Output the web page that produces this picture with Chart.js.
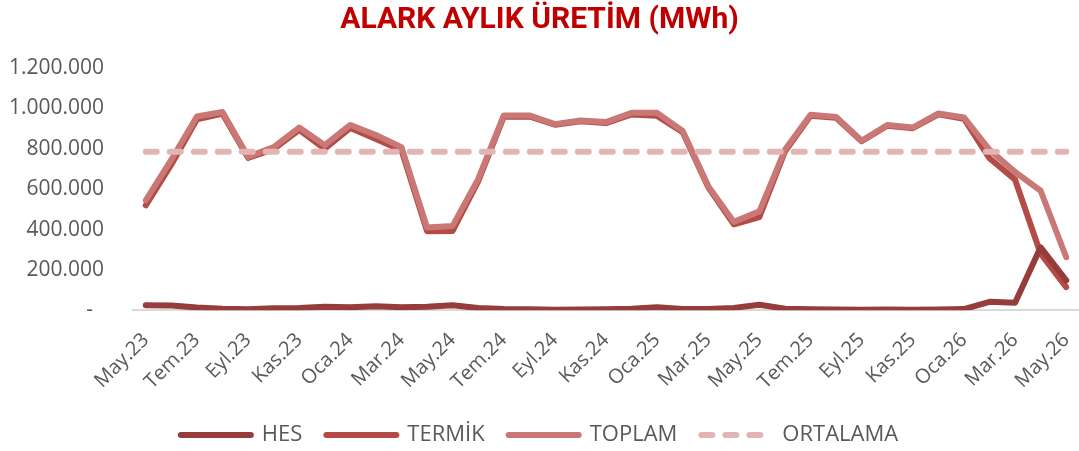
<!DOCTYPE html>
<html>
<head>
<meta charset="utf-8">
<script src="https://cdn.jsdelivr.net/npm/chart.js@4"></script>
<style>
  body { margin: 0; background: #fff; }
  #wrap { width: 1079px; height: 451px; position: relative; }
</style>
</head>
<body>
<div id="wrap"><canvas id="uretimChart"></canvas></div>
<script>
// months May.23 .. May.26
const months = ['May.23','Haz.23','Tem.23','Ağu.23','Eyl.23','Eki.23','Kas.23','Ara.23',
  'Oca.24','Şub.24','Mar.24','Nis.24','May.24','Haz.24','Tem.24','Ağu.24','Eyl.24','Eki.24',
  'Kas.24','Ara.24','Oca.25','Şub.25','Mar.25','Nis.25','May.25','Haz.25','Tem.25','Ağu.25',
  'Eyl.25','Eki.25','Kas.25','Ara.25','Oca.26','Şub.26','Mar.26','Nis.26','May.26'];

const hes = [25000, 24000, 14000, 8000, 5000, 10000, 11000, 18000, 15000, 20000, 15000, 18000,
  25000, 12000, 7000, 5000, 3000, 4000, 5000, 8000, 15000, 6000, 6000, 12000, 28000, 8000,
  5000, 4000, 3000, 4000, 3000, 4000, 6000, 42000, 38000, 312000, 148000];

const termik = [520000, 722000, 946000, 974000, 755000, 798000, 894000, 800000, 903000, 848000,
  793000, 392000, 393000, 638000, 958000, 960000, 919000, 936000, 927000, 970000, 963000,
  882000, 609000, 426000, 462000, 787000, 963000, 954000, 837000, 914000, 902000, 971000,
  949000, 753000, 647000, 280000, 115000];

const toplam = [545000, 746000, 960000, 982000, 760000, 808000, 905000, 818000, 918000, 868000,
  808000, 410000, 418000, 650000, 965000, 965000, 922000, 940000, 932000, 978000, 978000,
  888000, 615000, 438000, 490000, 795000, 968000, 958000, 840000, 918000, 905000, 975000,
  955000, 795000, 685000, 592000, 263000];

const ortalamaValue = 785000;
const ortalama = months.map(() => ortalamaValue);

const yTicks = [0, 200000, 400000, 600000, 800000, 1000000, 1200000];

const fmt = v => v === 0 ? '-  ' : v.toLocaleString('de-DE');
const textFont = '"Open Sans", sans-serif';

const ctx = document.getElementById('uretimChart').getContext('2d');

new Chart(ctx, {
    type: 'line',
    data: {
        labels: months,
        datasets: [
            {
                label: 'HES',
                data: hes,
                borderColor: '#963c3a',
                backgroundColor: '#963c3a',
                borderWidth: 6,
                pointRadius: 0,
                borderCapStyle: 'round',
                borderJoinStyle: 'round',
                order: 2
            },
            {
                label: 'TERMİK',
                data: termik,
                borderColor: '#b44b47',
                backgroundColor: '#b44b47',
                borderWidth: 6,
                pointRadius: 0,
                borderCapStyle: 'round',
                borderJoinStyle: 'round',
                order: 3
            },
            {
                label: 'TOPLAM',
                data: toplam,
                borderColor: '#c97876',
                backgroundColor: '#c97876',
                borderWidth: 6,
                pointRadius: 0,
                borderCapStyle: 'round',
                borderJoinStyle: 'round',
                order: 1
            },
            {
                label: 'ORTALAMA',
                data: ortalama,
                borderColor: '#e2b5b5',
                backgroundColor: '#e2b5b5',
                borderWidth: 6,
                borderDash: [11, 13],
                pointRadius: 0,
                borderCapStyle: 'round',
                order: 0
            }
        ]
    },
    options: {
        responsive: true,
        maintainAspectRatio: false,
        animation: false,
        layout: { padding: { left: 0, right: 0, top: 0, bottom: -5 } },
        plugins: {
            title: {
                display: true,
                text: 'ALARK AYLIK ÜRETİM (MWh)',
                color: '#c00000',
                font: { family: '"Liberation Sans Narrow", "Roboto", sans-serif', size: 30, weight: 'bold' },
                padding: { top: 2, bottom: 30 }
            },
            legend: {
                position: 'bottom',
                labels: {
                    usePointStyle: true,
                    pointStyle: 'line',
                    pointStyleWidth: 70,
                    boxHeight: 22,
                    padding: 24,
                    color: '#595959',
                    font: { family: textFont, size: 22 },
                    sort: (a, b) => a.datasetIndex - b.datasetIndex,
                    generateLabels: chart => {
                        const items = Chart.defaults.plugins.legend.labels.generateLabels(chart);
                        items.forEach(item => {
                            const ds = chart.data.datasets[item.datasetIndex];
                            item.strokeStyle = ds.borderColor;
                            item.lineWidth = 6;
                            item.lineCap = 'round';
                            item.lineDash = ds.borderDash || [];
                        });
                        return items;
                    }
                }
            },
            tooltip: { enabled: false }
        },
        scales: {
            x: {
                offset: true,
                afterFit: scale => {
                    scale.paddingRight = 0;
                    scale.height = scale.height - 12;
                },
                grid: { display: false, drawTicks: false },
                border: { display: true, color: '#d9d9d9', width: 2 },
                ticks: {
                    autoSkip: false,
                    minRotation: 45,
                    maxRotation: 45,
                    padding: 18,
                    color: '#595959',
                    font: { family: textFont, size: 20 },
                    callback: function (value, index) {
                        return index % 2 === 0 ? this.getLabelForValue(value) : '';
                    }
                }
            },
            y: {
                min: 0,
                max: 1200000,
                afterBuildTicks: scale => { scale.ticks = yTicks.map(v => ({ value: v })); },
                afterFit: scale => { scale.width = 133; },
                grid: { display: false, drawTicks: false },
                border: { display: false },
                ticks: {
                    padding: 29,
                    color: '#595959',
                    font: { family: textFont, size: 21 },
                    callback: value => fmt(value)
                }
            }
        }
    }
});
</script>
</body>
</html>
